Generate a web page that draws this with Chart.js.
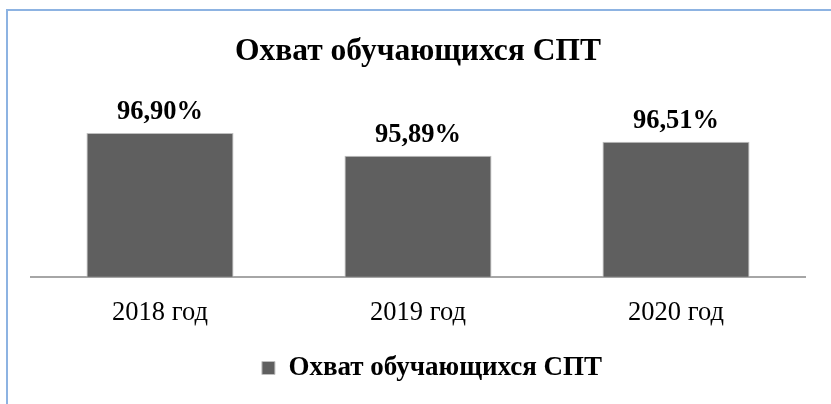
<!DOCTYPE html>
<html>
<head>
<meta charset="utf-8">
<script src="https://cdn.jsdelivr.net/npm/chart.js@4"></script>
<style>
  html, body { margin: 0; padding: 0; background: #ffffff; }
  #wrap { width: 831px; height: 404px; position: relative; }
</style>
</head>
<body>
<div id="wrap"><canvas id="c" width="831" height="404"></canvas></div>
<script>
const categories = ['2018 год', '2019 год', '2020 год'];
const seriesName = 'Охват обучающихся СПТ';
const values = [96.90, 95.89, 96.51];
const valueLabels = ['96,90%', '95,89%', '96,51%'];
const chartTitle = 'Охват обучающихся СПТ';

const SERIF = "'Liberation Serif', 'Times New Roman', serif";

const frame = {
  id: 'frame',
  beforeDraw(chart) {
    const ctx = chart.ctx;
    ctx.save();
    ctx.fillStyle = '#ffffff';
    ctx.fillRect(0, 0, chart.width, chart.height);
    ctx.strokeStyle = '#8db3e2';
    ctx.lineWidth = 2;
    ctx.beginPath();
    ctx.moveTo(7, chart.height);
    ctx.lineTo(7, 10);
    ctx.lineTo(chart.width, 10);
    ctx.stroke();
    ctx.restore();
  }
};

// shift the legend slightly right, as in the reference
const legendShift = {
  id: 'legendShift',
  afterLayout(chart) {
    if (chart.legend) {
      chart.legend.left += 14;
      chart.legend.right += 14;
    }
  }
};

const valueLabelPlugin = {
  id: 'valueLabels',
  afterDatasetsDraw(chart) {
    const ctx = chart.ctx;
    const meta = chart.getDatasetMeta(0);
    ctx.save();
    ctx.font = "bold 26.5px " + SERIF;
    ctx.fillStyle = '#000000';
    ctx.textAlign = 'center';
    ctx.textBaseline = 'alphabetic';
    meta.data.forEach((bar, i) => {
      ctx.fillText(valueLabels[i], bar.x, bar.y - 14);
    });
    ctx.restore();
  }
};

new Chart(document.getElementById('c'), {
  type: 'bar',
  data: {
    labels: categories,
    datasets: [{
      label: seriesName,
      data: values,
      backgroundColor: '#5f5f5f',
      borderColor: '#bfbfbf',
      borderWidth: 1,
      categoryPercentage: 1.0,
      barPercentage: 0.57
    }]
  },
  options: {
    responsive: false,
    animation: false,
    layout: { padding: { left: 31, right: 26, top: 0, bottom: 12.5 } },
    scales: {
      x: {
        grid: { display: false, drawTicks: false },
        border: { display: true, color: '#a6a6a6', width: 2 },
        ticks: { color: '#000000', font: { family: SERIF, size: 26.5 }, padding: 20 }
      },
      y: {
        display: false,
        min: 90.5,
        max: 97
      }
    },
    plugins: {
      title: {
        display: true,
        text: chartTitle,
        color: '#000000',
        font: { family: SERIF, size: 31.5, weight: 'bold', lineHeight: 1.2 },
        padding: { top: 33, bottom: 60 }
      },
      legend: {
        display: true,
        position: 'bottom',
        labels: {
          color: '#000000',
          font: { family: SERIF, size: 27, weight: 'bold' },
          boxWidth: 13,
          boxHeight: 13,
          padding: 6
        }
      },
      tooltip: { enabled: false }
    }
  },
  plugins: [frame, legendShift, valueLabelPlugin]
});
</script>
</body>
</html>
